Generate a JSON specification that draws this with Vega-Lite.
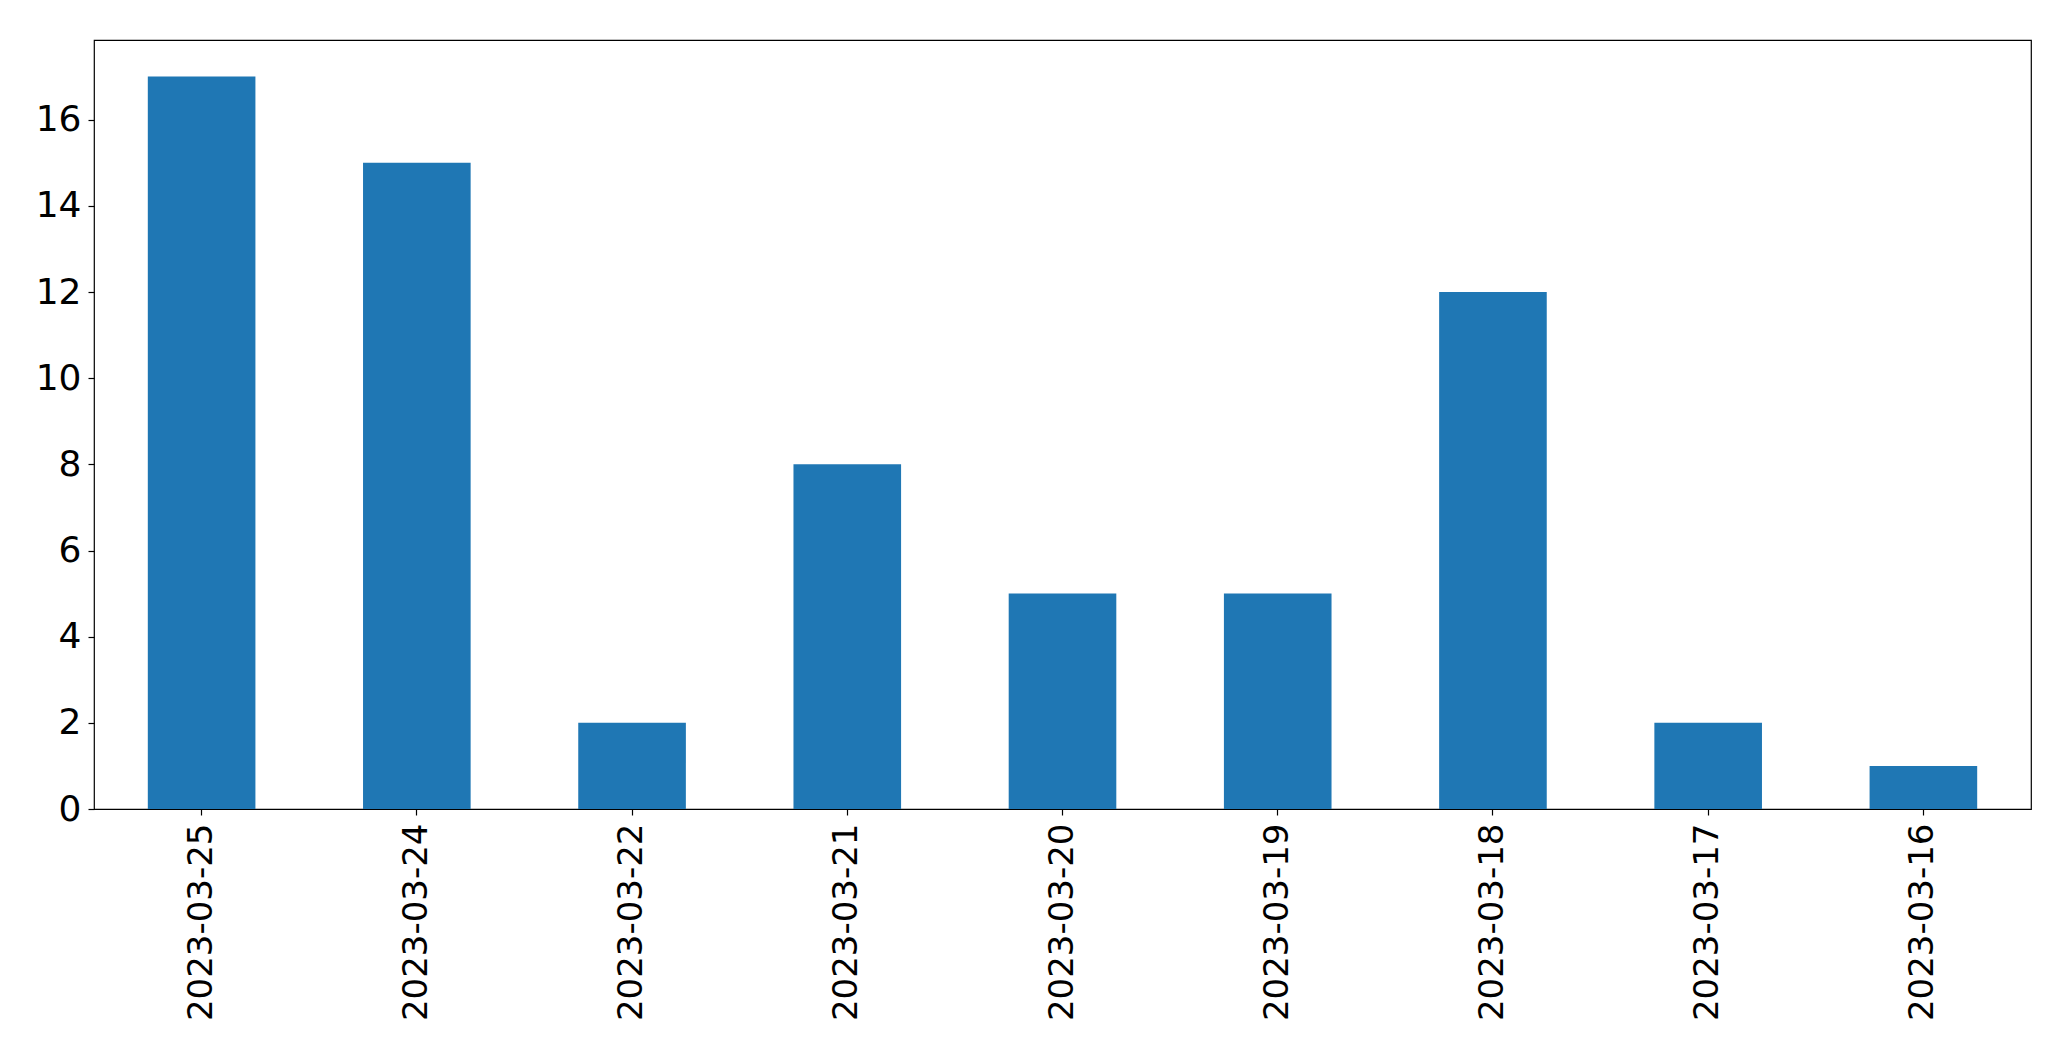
{
  "$schema": "https://vega.github.io/schema/vega-lite/v6.json",
  "width": 1937,
  "height": 769,
  "autosize": {"type": "none"},
  "padding": {"left": 94, "top": 40, "right": 40, "bottom": 252},
  "background": "white",
  "config": {
    "view": {"stroke": "black", "strokeWidth": 1.2},
    "font": "DejaVu Sans",
    "axis": {
      "labelFont": "DejaVu Sans",
      "labelFontSize": 36,
      "labelColor": "black",
      "labelLimit": 0,
      "tickColor": "black",
      "tickSize": 6,
      "tickWidth": 1.2,
      "domain": false,
      "grid": false,
      "title": null
    }
  },
  "data": {
    "values": [
      {"date": "2023-03-25", "count": 17},
      {"date": "2023-03-24", "count": 15},
      {"date": "2023-03-22", "count": 2},
      {"date": "2023-03-21", "count": 8},
      {"date": "2023-03-20", "count": 5},
      {"date": "2023-03-19", "count": 5},
      {"date": "2023-03-18", "count": 12},
      {"date": "2023-03-17", "count": 2},
      {"date": "2023-03-16", "count": 1}
    ]
  },
  "mark": {"type": "bar", "color": "#1f77b4"},
  "encoding": {
    "x": {
      "field": "date",
      "type": "nominal",
      "sort": null,
      "scale": {"paddingInner": 0.5, "paddingOuter": 0.25},
      "axis": {"labelAngle": -90, "labelAlign": "right", "labelBaseline": "middle", "labelPadding": 8, "labelFontSize": 34}
    },
    "y": {
      "field": "count",
      "type": "quantitative",
      "scale": {"domain": [0, 17.85], "nice": false, "zero": true},
      "axis": {"values": [0, 2, 4, 6, 8, 10, 12, 14, 16], "labelPadding": 7}
    }
  }
}
